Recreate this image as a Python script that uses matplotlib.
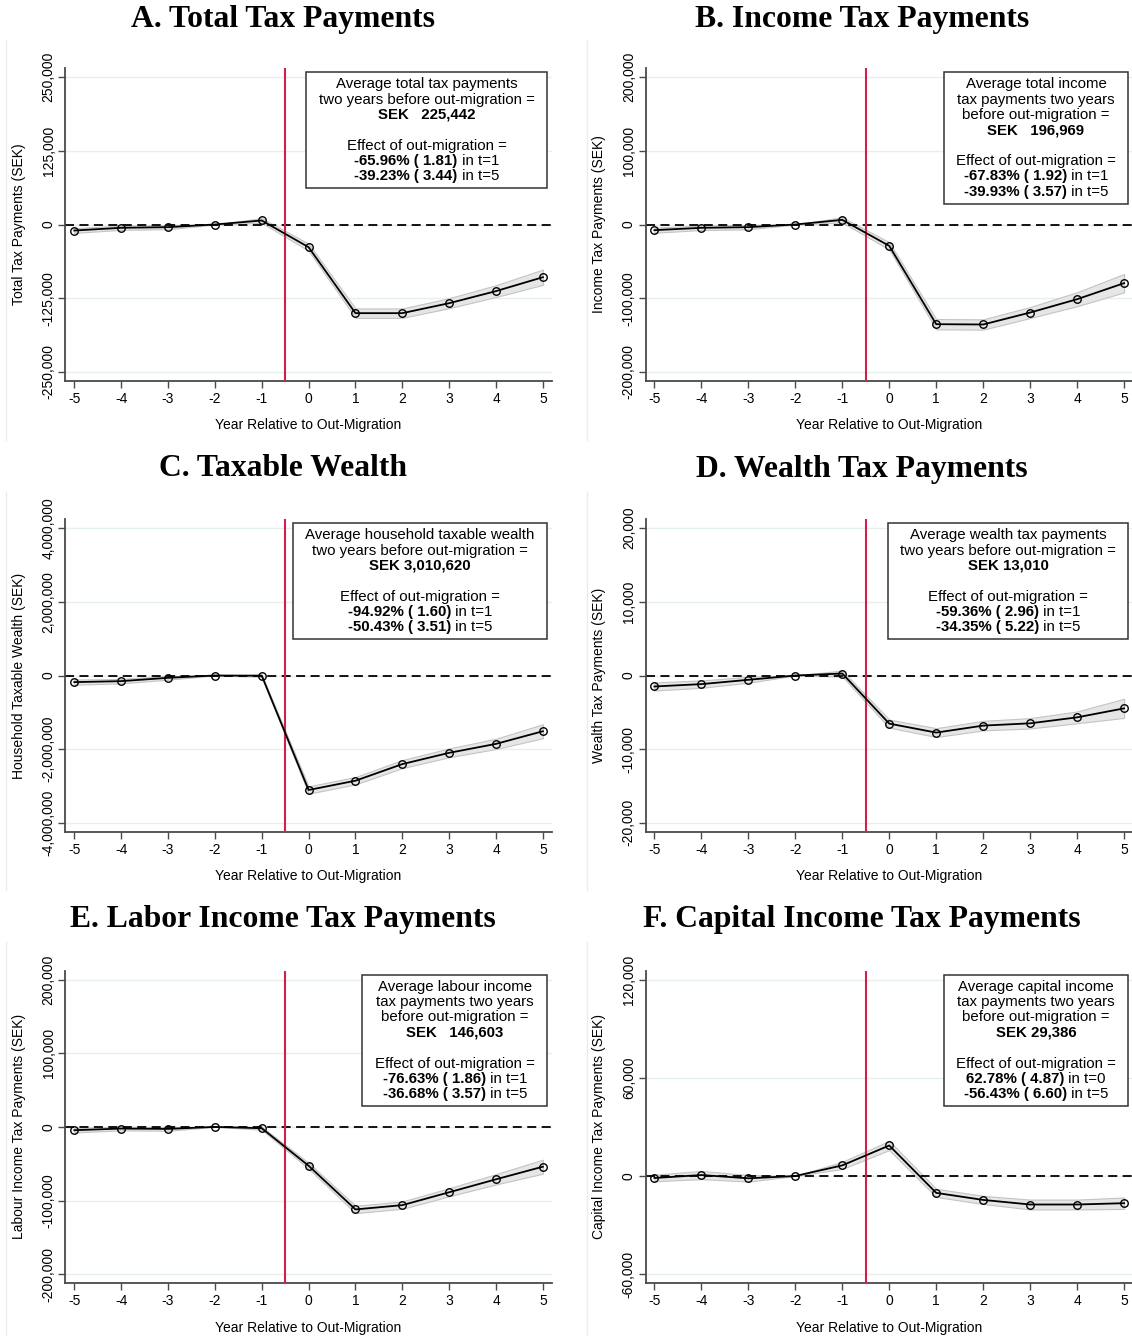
import matplotlib
matplotlib.use("Agg")
import matplotlib.pyplot as plt
from matplotlib.lines import Line2D
from matplotlib.offsetbox import TextArea, HPacker, VPacker, AnchoredOffsetbox, DrawingArea

plt.rcParams["font.family"] = ["Liberation Sans", "DejaVu Sans"]
plt.rcParams["axes.unicode_minus"] = False

# event-study estimates (SEK), t = -2 is the reference year
years = [-5, -4, -3, -2, -1, 0, 1, 2, 3, 4, 5]

total_tax = [-10200, -5600, -4500, 0, 6800, -38500, -150400, -150400, -133500, -113000, -89400]
total_tax_ci = [4000, 3500, 3500, 0, 4000, 6000, 8000, 8000, 8500, 10000, 13000]

income_tax = [-7700, -4500, -3600, 0, 6300, -29000, -135300, -135700, -119500, -101400, -79600]
income_tax_ci = [3500, 3000, 3000, 0, 3500, 5000, 7000, 7000, 7500, 9500, 12500]

wealth = [-180000, -153000, -63000, 0, -5000, -3108000, -2856000, -2405000, -2099000, -1856000, -1513000]
wealth_ci = [70000, 60000, 50000, 0, 30000, 100000, 100000, 110000, 120000, 140000, 190000]

wealth_tax = [-1490, -1170, -585, 0, 270, -6530, -7750, -6800, -6490, -5680, -4460]
wealth_tax_ci = [550, 500, 400, 0, 400, 550, 600, 650, 700, 800, 1300]

labour_tax = [-4500, -2250, -2700, 0, -1800, -52700, -112000, -106200, -88700, -71100, -54000]
labour_tax_ci = [3000, 2500, 2500, 0, 2000, 4000, 5000, 5000, 5500, 7000, 9500]

capital_tax = [-1200, 600, -1400, 0, 6500, 18650, -10300, -14600, -17400, -17400, -16600]
capital_tax_ci = [2000, 2500, 2000, 0, 2200, 2800, 2500, 2500, 3000, 3000, 3500]

titles = ["A. Total Tax Payments", "B. Income Tax Payments", "C. Taxable Wealth",
          "D. Wealth Tax Payments", "E. Labor Income Tax Payments", "F. Capital Income Tax Payments"]
ylabels = ["Total Tax Payments (SEK)", "Income Tax Payments (SEK)", "Household Taxable Wealth (SEK)",
           "Wealth Tax Payments (SEK)", "Labour Income Tax Payments (SEK)", "Capital Income Tax Payments (SEK)"]
yticks = [
    [-250000, -125000, 0, 125000, 250000],
    [-200000, -100000, 0, 100000, 200000],
    [-4000000, -2000000, 0, 2000000, 4000000],
    [-20000, -10000, 0, 10000, 20000],
    [-200000, -100000, 0, 100000, 200000],
    [-60000, 0, 60000, 120000],
]

B = "bold"
N = "normal"
boxes = [
    ["Average total tax payments", "two years before out-migration =", [("SEK   225,442", B)], "",
     "Effect of out-migration =", [("-65.96% ( 1.81)", B), (" in t=1", N)], [("-39.23% ( 3.44)", B), (" in t=5", N)]],
    ["Average total income", "tax payments two years", "before out-migration =", [("SEK   196,969", B)], "",
     "Effect of out-migration =", [("-67.83% ( 1.92)", B), (" in t=1", N)], [("-39.93% ( 3.57)", B), (" in t=5", N)]],
    ["Average household taxable wealth", "two years before out-migration =", [("SEK 3,010,620", B)], "",
     "Effect of out-migration =", [("-94.92% ( 1.60)", B), (" in t=1", N)], [("-50.43% ( 3.51)", B), (" in t=5", N)]],
    ["Average wealth tax payments", "two years before out-migration =", [("SEK 13,010", B)], "",
     "Effect of out-migration =", [("-59.36% ( 2.96)", B), (" in t=1", N)], [("-34.35% ( 5.22)", B), (" in t=5", N)]],
    ["Average labour income", "tax payments two years", "before out-migration =", [("SEK   146,603", B)], "",
     "Effect of out-migration =", [("-76.63% ( 1.86)", B), (" in t=1", N)], [("-36.68% ( 3.57)", B), (" in t=5", N)]],
    ["Average capital income", "tax payments two years", "before out-migration =", [("SEK 29,386", B)], "",
     "Effect of out-migration =", [("62.78% ( 4.87)", B), (" in t=0", N)], [("-56.43% ( 6.60)", B), (" in t=5", N)]],
]

series = [(total_tax, total_tax_ci), (income_tax, income_tax_ci), (wealth, wealth_ci),
          (wealth_tax, wealth_tax_ci), (labour_tax, labour_tax_ci), (capital_tax, capital_tax_ci)]

W, H = 1132, 1336
fig = plt.figure(figsize=(W / 100, H / 100), dpi=100)

col_left = [65.4, 645.5]
col_right = [551.8, 1133.0]
row_top = [68.3, 519.3, 970.7]
ax_h = 312.4
title_x = [283, 862]
title_y = [19, 469, 919]
region = [(40, 440), (492, 890), (942, 1336)]

SPINE = "#4a4a4a"


def info_box(ax, lines):
    rows = []
    for ln in lines:
        if isinstance(ln, str):
            ln = [(ln if ln else " ", N)]
        parts = [TextArea(s, textprops=dict(fontsize=10.8, fontweight=w, color="black")) for s, w in ln]
        rows.append(HPacker(children=parts, align="baseline", pad=0, sep=0))
    col = VPacker(children=rows, align="center", pad=0, sep=1.0)
    padded = HPacker(children=[DrawingArea(5.5, 1), col, DrawingArea(5.5, 1)], align="center", pad=0, sep=0)
    # 4-5 px inset from the top right corner of the plot area
    bb = ax.get_window_extent()
    anchor = (1 - 4.6 / bb.width, 1 - 4.0 / bb.height)
    ab = AnchoredOffsetbox(loc="upper right", child=padded, pad=0.35, borderpad=0,
                           frameon=True, bbox_to_anchor=anchor, bbox_transform=ax.transAxes)
    ab.patch.set_boxstyle("square", pad=0)
    ab.patch.set_edgecolor("#333333")
    ab.patch.set_linewidth(1.1)
    ab.patch.set_facecolor("white")
    ab.set_zorder(5)
    ax.add_artist(ab)


for i in range(6):
    r, c = divmod(i, 2)
    l = col_left[c]
    w = col_right[c] - l
    t = row_top[r]
    ax = fig.add_axes([l / W, 1 - (t + ax_h) / H, w / W, ax_h / H])
    vals, ci = series[i]
    lo = [v - e for v, e in zip(vals, ci)]
    hi = [v + e for v, e in zip(vals, ci)]

    ticks = yticks[i]
    span = ticks[-1] - ticks[0]
    ax.set_ylim(ticks[0] - 0.03 * span, ticks[-1] + 0.03 * span)
    ax.set_xlim(-5.19, 5.19)

    for tk in ticks:
        ax.axhline(tk, color="#e6eff0", lw=1.0, zorder=0)
    ax.fill_between(years, lo, hi, facecolor="#e6e6e6", edgecolor="#c4c4c4", lw=0.8, zorder=1)
    ax.axhline(0, color="black", lw=1.3, ls=(0, (5, 3)), zorder=2)
    ax.axvline(-0.5, color="#d21f4b", lw=1.5, zorder=3)
    ax.plot(years, vals, color="black", lw=1.3, marker="o", markersize=5.4,
            markerfacecolor="none", markeredgecolor="black", markeredgewidth=1.0, zorder=4)

    ax.set_xticks(years, labels=[str(y) for y in years])
    ax.set_yticks(ticks, labels=[f"{v:,}" for v in ticks], rotation=90, va="center")
    ax.tick_params(axis="both", direction="out", length=5, width=1.0, color=SPINE,
                   labelsize=10, labelcolor="black")
    ax.tick_params(axis="x", pad=3)
    ax.tick_params(axis="y", pad=2)
    for side in ["top", "right"]:
        ax.spines[side].set_visible(False)
    for side in ["left", "bottom"]:
        ax.spines[side].set_color(SPINE)
        ax.spines[side].set_linewidth(1.3)

    ax.set_xlabel("Year Relative to Out-Migration", fontsize=10, labelpad=9)
    ax.set_ylabel(ylabels[i], fontsize=10)
    ax.yaxis.set_label_coords(-(l - (26 + c * 580)) / w, 0.5)

    info_box(ax, boxes[i])

    fig.text(title_x[c] / W, 1 - title_y[r] / H, titles[i], ha="center", va="center",
             family=["Liberation Serif", "DejaVu Serif"], fontweight="bold", fontsize=22.8)

    # faint left edge of each graph region, kept behind everything
    gx = (6 + c * 581) / W
    y0, y1 = region[r]
    fig.add_artist(Line2D([gx, gx], [1 - y0 / H, 1 - y1 / H], color="#e8eeef", lw=1.0, zorder=-1))

fig.savefig("out.png", dpi=100)
